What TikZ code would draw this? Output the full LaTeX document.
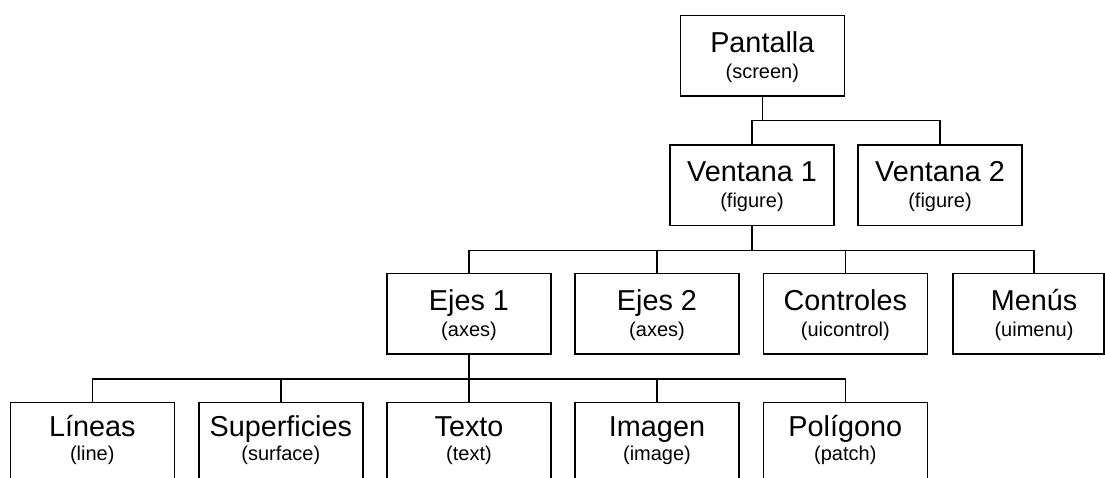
\documentclass[tikz,border=0pt]{standalone}
\usepackage{fontspec}
\setmainfont{Liberation Sans}
\begin{document}
\begin{tikzpicture}[x=1pt,y=-1pt,
  boxnode/.style={draw,line width=1.5pt,minimum width=164pt,minimum height=80.5pt,inner sep=0pt,anchor=north},
  maintext/.style={anchor=base,inner sep=0pt,font=\fontsize{28.8}{30}\selectfont},
  subtext/.style={anchor=base,inner sep=0pt,font=\fontsize{20}{22}\selectfont},
  link/.style={line width=1.5pt,line cap=rect}]
\useasboundingbox (0,0) rectangle (1105,477);
% level 1
\node[boxnode] (pant) at (762.3,14.7) {};
\node[maintext] (pantm) at (762.3,52.2) {Pantalla};
\node[subtext] (pants) at (762.3,78.5) {(screen)};
% level 2
\node[boxnode] (ven1) at (752,144) {};
\node[maintext] (ven1m) at (752,181) {Ventana 1};
\node[subtext] (ven1s) at (752,207) {(figure)};
\node[boxnode] (ven2) at (940,144) {};
\node[maintext] (ven2m) at (940,181) {Ventana 2};
\node[subtext] (ven2s) at (940,207) {(figure)};
% level 3
\node[boxnode] (eje1) at (469,272.7) {};
\node[maintext] (eje1m) at (469,310) {Ejes 1};
\node[subtext] (eje1s) at (469,336.2) {(axes)};
\node[boxnode] (eje2) at (657,272.7) {};
\node[maintext] (eje2m) at (657,310) {Ejes 2};
\node[subtext] (eje2s) at (657,336.2) {(axes)};
\node[boxnode] (ctrl) at (845.3,272.7) {};
\node[maintext] (ctrlm) at (845.3,310) {Controles};
\node[subtext] (ctrls) at (845.3,336.2) {(uicontrol)};
\node[draw,line width=1.5pt,minimum width=151pt,minimum height=80.5pt,inner sep=0pt,anchor=north west] (menu) at (952,272.7) {};
\coordinate (menutop) at (1034,272.7);
\node[maintext] (menum) at (1034,310) {Menús};
\node[subtext] (menus) at (1034,336.2) {(uimenu)};
% level 4
\node[boxnode] (lin) at (92.3,401.7) {};
\node[maintext] (linm) at (92.3,436.5) {Líneas};
\node[subtext] (lins) at (92.3,460) {(line)};
\node[boxnode] (sup) at (280.8,401.7) {};
\node[maintext] (supm) at (280.8,436.5) {Superficies};
\node[subtext] (sups) at (280.8,460) {(surface)};
\node[boxnode] (tex) at (469,401.7) {};
\node[maintext] (texm) at (469,436.5) {Texto};
\node[subtext] (texs) at (469,460) {(text)};
\node[boxnode] (ima) at (657,401.7) {};
\node[maintext] (imam) at (657,436.5) {Imagen};
\node[subtext] (imas) at (657,460) {(image)};
\node[boxnode] (pol) at (845.3,401.7) {};
\node[maintext] (polm) at (845.3,436.5) {Polígono};
\node[subtext] (pols) at (845.3,460) {(patch)};
% connectors
\draw[link] (pant.south) -- ++(0,24) -| (ven1.north);
\draw[link] (pant.south) ++(0,24) -| (ven2.north);
\draw[link] (ven1.south) -- ++(0,24.5) -| (eje1.north);
\draw[link] (ven1.south) ++(0,24.5) -| (eje2.north);
\draw[link] (ven1.south) ++(0,24.5) -| (ctrl.north);
\draw[link] (ven1.south) ++(0,24.5) -| (menutop);
\draw[link] (eje1.south) -- ++(0,24.2) -| (lin.north);
\draw[link] (eje1.south) ++(0,24.2) -| (sup.north);
\draw[link] (eje1.south) ++(0,24.2) -| (tex.north);
\draw[link] (eje1.south) ++(0,24.2) -| (ima.north);
\draw[link] (eje1.south) ++(0,24.2) -| (pol.north);
\end{tikzpicture}
\end{document}
